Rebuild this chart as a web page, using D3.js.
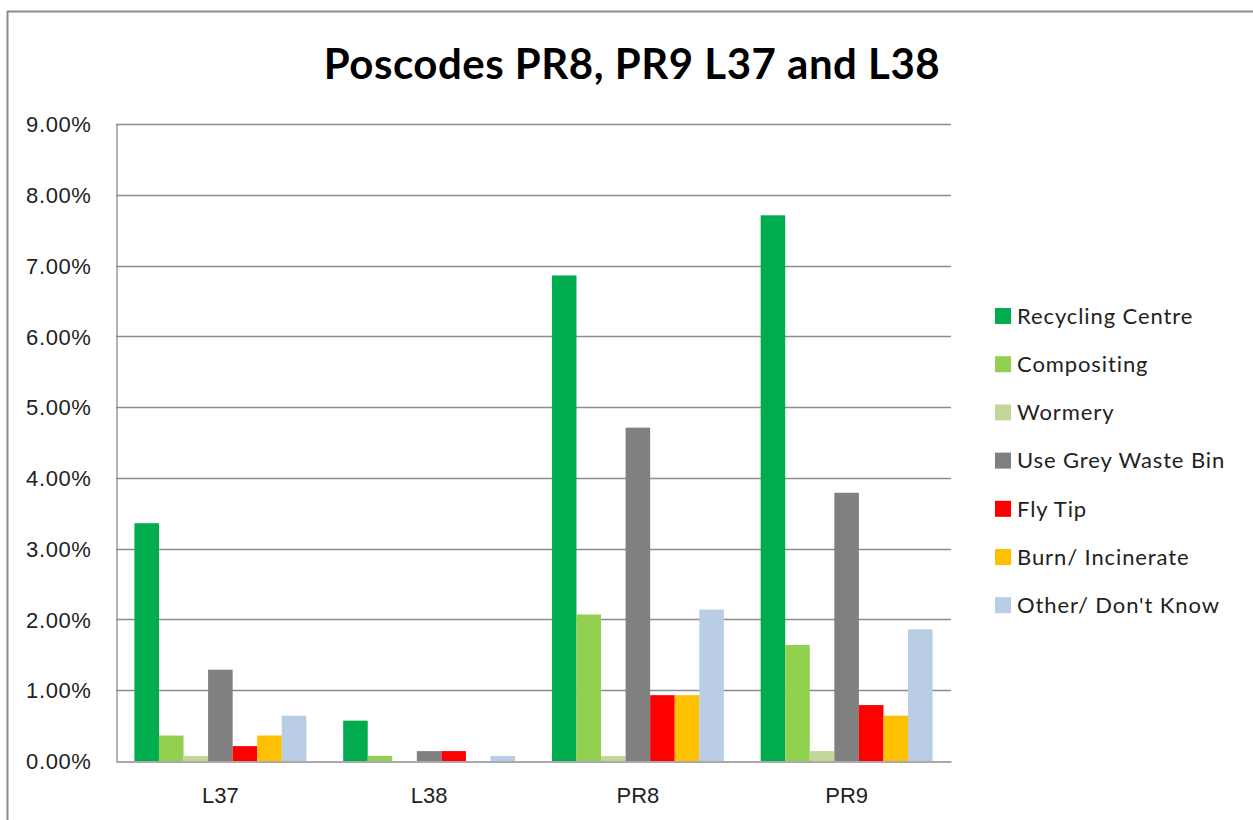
<!DOCTYPE html>
<html>
<head>
<meta charset="utf-8">
<script src="https://cdn.jsdelivr.net/npm/d3@7"></script>
<style>
  html, body { margin: 0; padding: 0; background: #fff; }
  svg { display: block; font-family: Lato, "Open Sans", sans-serif; }
</style>
</head>
<body>
<svg id="chart" width="1253" height="820"></svg>
<script>
// ---- data ----
const categories = ["L37", "L38", "PR8", "PR9"];
const seriesNames = ["Recycling Centre", "Compositing", "Wormery", "Use Grey Waste Bin", "Fly Tip", "Burn/ Incinerate", "Other/ Don't Know"];
const seriesColors = ["#00ac4e", "#92d050", "#c4d79b", "#808080", "#ff0000", "#ffc000", "#b9cde5"];
// values in percent, series order as seriesNames
const valuesL37 = [3.36, 0.36, 0.07, 1.29, 0.21, 0.36, 0.64];
const valuesL38 = [0.57, 0.07, 0.00, 0.14, 0.14, 0.00, 0.07];
const valuesPR8 = [6.86, 2.07, 0.07, 4.71, 0.93, 0.93, 2.14];
const valuesPR9 = [7.71, 1.64, 0.14, 3.79, 0.79, 0.64, 1.86];
const yTicks = [0, 1, 2, 3, 4, 5, 6, 7, 8, 9];
const title = "Poscodes PR8, PR9 L37 and L38";

const table = categories.map((c, i) => ({
  category: c,
  values: [valuesL37, valuesL38, valuesPR8, valuesPR9][i]
}));

// ---- layout ----
const svg = d3.select("#chart");
const plot = { left: 116, right: 951, top: 124, bottom: 761 };

// outer border
svg.append("path")
  .attr("d", "M7.5,820 L7.5,11.5 L1253,11.5")
  .attr("fill", "none").attr("stroke", "#8a8a8a").attr("stroke-width", 2);

// title
svg.append("text")
  .attr("x", 632).attr("y", 79)
  .attr("text-anchor", "middle")
  .attr("font-size", 42).attr("font-weight", "bold")
  .attr("letter-spacing", 0.5)
  .attr("fill", "#000")
  .text(title);

const y = d3.scaleLinear().domain([0, 9]).range([plot.bottom, plot.top]);
const x0 = d3.scaleBand().domain(categories).range([plot.left, plot.right]).paddingInner(0).paddingOuter(0);
const gw = x0.bandwidth();
const bw = gw / 8.5;
const x1 = d3.scaleBand().domain(seriesNames).range([0.75 * bw, gw - 0.75 * bw]).padding(0);

// gridlines
const g = svg.append("g");
g.selectAll("line.grid").data(yTicks.filter(t => t > 0)).join("line")
  .attr("class", "grid")
  .attr("x1", plot.left).attr("x2", plot.right)
  .attr("y1", d => Math.round(y(d)) + 0.5).attr("y2", d => Math.round(y(d)) + 0.5)
  .attr("stroke", "#8c8c8c").attr("stroke-width", 1.3);

// y axis
const yAxis = d3.axisLeft(y).tickValues(yTicks).tickSize(0).tickPadding(25)
  .tickFormat(d => d.toFixed(2) + "%");
const ya = svg.append("g").attr("transform", `translate(${plot.left + 0.5},0)`).call(yAxis);
ya.select(".domain").attr("stroke", "#8c8c8c").attr("stroke-width", 1.3);
ya.selectAll("text").attr("font-size", 22).attr("letter-spacing", 0.6).attr("fill", "#222").attr("dy", "0.35em");

// bars
const groups = svg.append("g").selectAll("g").data(table).join("g")
  .attr("transform", d => `translate(${x0(d.category)},0)`);
groups.selectAll("rect").data(d => d.values.map((v, i) => ({ v, s: seriesNames[i], c: seriesColors[i] })))
  .join("rect")
  .attr("x", d => x1(d.s))
  .attr("width", x1.bandwidth())
  .attr("y", d => y(d.v))
  .attr("height", d => plot.bottom - y(d.v))
  .attr("fill", d => d.c);

// x axis
const xAxis = d3.axisBottom(x0).tickSize(0).tickPadding(26);
const xa = svg.append("g").attr("transform", `translate(0,${plot.bottom + 0.5})`).call(xAxis);
xa.select(".domain").attr("stroke", "#8c8c8c").attr("stroke-width", 1.3);
xa.selectAll("text").attr("font-size", 22).attr("fill", "#222");

// legend
const legend = svg.append("g").attr("transform", "translate(995,316)");
const li = legend.selectAll("g").data(seriesNames).join("g")
  .attr("transform", (d, i) => `translate(0,${i * 48.2})`);
li.append("rect").attr("x", 0).attr("y", -8).attr("width", 16).attr("height", 16)
  .attr("fill", (d, i) => seriesColors[i]);
li.append("text").attr("x", 22).attr("y", 0).attr("dy", "0.35em")
  .attr("font-size", 22).attr("letter-spacing", 0.9).attr("fill", "#222").text(d => d);
</script>
</body>
</html>
